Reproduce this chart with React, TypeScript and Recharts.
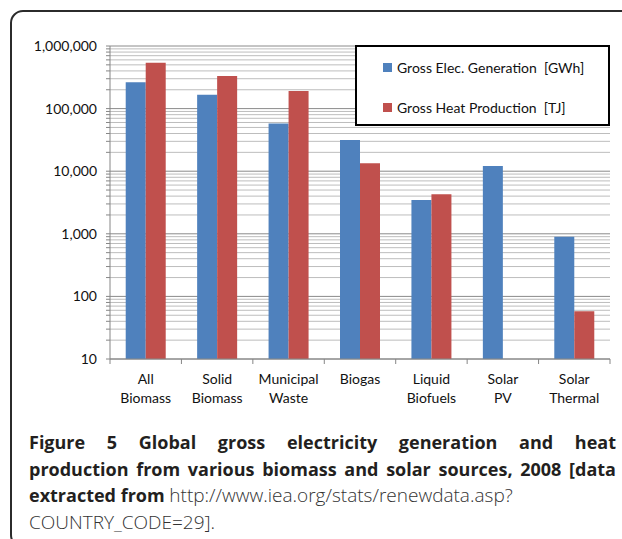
import { BarChart, Bar, XAxis, YAxis, CartesianGrid, Legend } from 'recharts';

const CATEGORIES = [
  'All Biomass', 'Solid Biomass', 'Municipal Waste', 'Biogas',
  'Liquid Biofuels', 'Solar PV', 'Solar Thermal',
];
const ELEC_GWH = [263000, 167000, 58000, 31500, 3470, 12100, 900];
const HEAT_TJ: (number | null)[] = [541000, 331000, 191000, 13400, 4280, null, 58];

const MAJOR_TICKS = [10, 100, 1000, 10000, 100000, 1000000];
const MINOR_STEPS = [2, 3, 4, 5, 6, 7, 8, 9];
const MINOR_TICKS = MAJOR_TICKS.slice(0, -1).flatMap(t => MINOR_STEPS.map(m => t * m));
const ALL_TICKS = [...MAJOR_TICKS, ...MINOR_TICKS].sort((a, b) => a - b);

const ELEC_NAME = 'Gross Elec. Generation\u00a0\u00a0[GWh]';
const HEAT_NAME = 'Gross Heat Production\u00a0\u00a0[TJ]';

const BLUE = '#4F81BD';
const RED = '#C0504D';
const FONT = 'Lato, "Open Sans", sans-serif';

const chartData = CATEGORIES.map((name, i) => ({ name, elec: ELEC_GWH[i], heat: HEAT_TJ[i] }));

function CategoryTick(props: any) {
  const { x, y, payload, index, width, visibleTicksCount } = props;
  const band = (width || 500) / (visibleTicksCount || CATEGORIES.length);
  const lines = String(payload.value).split(' ');
  return (
    <g>
      <line x1={x - band / 2} x2={x - band / 2} y1={y} y2={y + 5} stroke="#868686" />
      {index === CATEGORIES.length - 1 && (
        <line x1={x + band / 2} x2={x + band / 2} y1={y} y2={y + 5} stroke="#868686" />
      )}
      <text x={x} y={y + 25} textAnchor="middle" fontSize={14} fontFamily={FONT} fill="#111">
        {lines.map((l, i) => (
          <tspan key={i} x={x} dy={i === 0 ? 0 : 19}>{l}</tspan>
        ))}
      </text>
    </g>
  );
}

function LegendBox(props: any) {
  const payload = props.payload || [];
  return (
    <div style={{
      boxSizing: 'border-box', width: 255, height: 81, border: '2px solid #000',
      background: '#fff', position: 'relative', fontFamily: FONT, fontSize: 14, color: '#111',
    }}>
      {payload.map((p: any, i: number) => (
        <div key={p.value} style={{
          position: 'absolute', left: 26, top: 11 + i * 40, height: 18,
          display: 'flex', alignItems: 'center', whiteSpace: 'nowrap',
        }}>
          <span style={{ width: 9, height: 9, background: p.color, marginRight: 5, display: 'inline-block' }} />
          {p.value}
        </div>
      ))}
    </div>
  );
}

export default function App() {
  return (
    <div style={{ position: 'absolute', left: 0, top: 0, width: 622, height: 539, overflow: 'hidden', background: '#fff' }}>
      <div style={{
        position: 'absolute', left: 10, top: 10, width: 640, height: 538,
        border: '2px solid #2b2b2b', borderRadius: 13, boxSizing: 'border-box',
      }} />
      <div style={{ position: 'absolute', left: 0, top: 0 }}>
        <BarChart
          width={622} height={420} data={chartData}
          margin={{ top: 46, right: 12, left: 0, bottom: 11 }}
          barCategoryGap="22%" barGap={0}
        >
          <CartesianGrid vertical={false} horizontalValues={MINOR_TICKS} stroke="#bdbdbd" />
          <CartesianGrid vertical={false} horizontalValues={MAJOR_TICKS} stroke="#8a8a8a" />
          <XAxis
            dataKey="name" interval={0} height={50} tickSize={0} tickMargin={0}
            tickLine={false} axisLine={{ stroke: '#868686' }} tick={<CategoryTick />}
          />
          <YAxis
            scale="log" domain={[10, 1000000]} allowDataOverflow ticks={ALL_TICKS} interval={0}
            width={110} tickSize={4} tickMargin={9}
            axisLine={{ stroke: '#868686' }} tickLine={{ stroke: '#868686' }}
            tickFormatter={(v: number) => (MAJOR_TICKS.includes(v) ? v.toLocaleString('en-US') : '')}
            tick={{ fontSize: 14, fontFamily: FONT, fill: '#111' }}
          />
          <Legend
            layout="vertical" align="center" verticalAlign="middle"
            wrapperStyle={{ left: 355, top: 45, width: 255, height: 81 }}
            content={<LegendBox />}
          />
          <Bar dataKey="elec" name={ELEC_NAME} fill={BLUE} isAnimationActive={false} />
          <Bar dataKey="heat" name={HEAT_NAME} fill={RED} isAnimationActive={false} />
        </BarChart>
      </div>
      <div style={{
        position: 'absolute', left: 29, top: 429, width: 587,
        fontFamily: '"Open Sans", sans-serif', fontSize: 18, lineHeight: '26.5px', color: '#231f20',
      }}>
        <div style={{ textAlign: 'justify', textAlignLast: 'justify', fontWeight: 700, whiteSpace: 'nowrap' }}>
          Figure 5 Global gross electricity generation and heat
        </div>
        <div style={{ textAlign: 'justify', textAlignLast: 'justify', fontWeight: 700, whiteSpace: 'nowrap' }}>
          production from various biomass and solar sources, 2008 [data
        </div>
        <div style={{ whiteSpace: 'nowrap' }}>
          <span style={{ fontWeight: 700 }}>extracted from</span>{' '}
          <span style={{ fontWeight: 300, color: '#333', fontSize: 19 }}>http://www.iea.org/stats/renewdata.asp?</span>
        </div>
        <div style={{ fontWeight: 300, color: '#333', fontSize: 19 }}>COUNTRY_CODE=29].</div>
      </div>
    </div>
  );
}
